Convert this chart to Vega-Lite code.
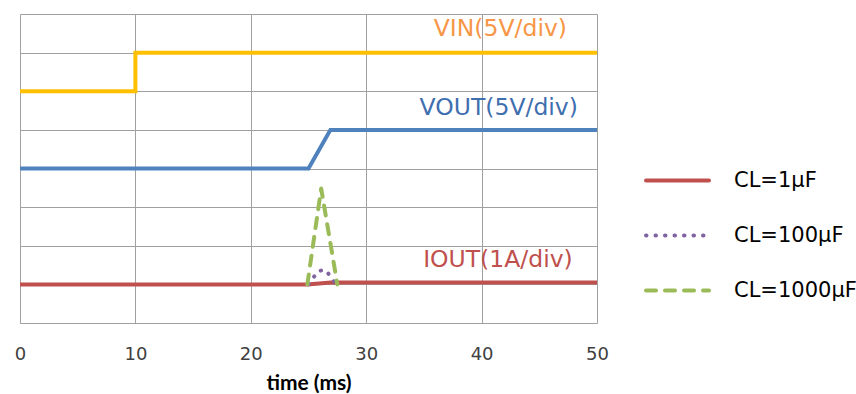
{
  "$schema": "https://vega.github.io/schema/vega-lite/v6.json",
  "width": 577,
  "height": 309,
  "autosize": {"type": "none"},
  "padding": {"left": 20, "top": 14, "right": 259, "bottom": 71},
  "background": "white",
  "config": {"view": {"stroke": null}},
  "datasets": {
    "volts": [
      {"series": "VIN", "time": 0, "value": 6},
      {"series": "VIN", "time": 10, "value": 6},
      {"series": "VIN", "time": 10, "value": 7},
      {"series": "VIN", "time": 50, "value": 7},
      {"series": "VOUT", "time": 0, "value": 4},
      {"series": "VOUT", "time": 25, "value": 4},
      {"series": "VOUT", "time": 26.9, "value": 5},
      {"series": "VOUT", "time": 50, "value": 5}
    ],
    "currents": [
      {"series": "CL=1µF", "time": 0, "value": 1},
      {"series": "CL=1µF", "time": 25, "value": 1},
      {"series": "CL=1µF", "time": 27, "value": 1.05},
      {"series": "CL=1µF", "time": 50, "value": 1.05},
      {"series": "CL=100µF", "time": 25, "value": 1},
      {"series": "CL=100µF", "time": 25.85, "value": 1.35},
      {"series": "CL=100µF", "time": 26.5, "value": 1.37},
      {"series": "CL=100µF", "time": 27.2, "value": 1.08},
      {"series": "CL=1000µF", "time": 24.9, "value": 1},
      {"series": "CL=1000µF", "time": 26.1, "value": 3.48},
      {"series": "CL=1000µF", "time": 27.5, "value": 1}
    ],
    "labels": [
      {"label": "VIN(5V/div)", "time": 47.4, "value": 7.6},
      {"label": "VOUT(5V/div)", "time": 48.35, "value": 5.57},
      {"label": "IOUT(1A/div)", "time": 47.9, "value": 1.63}
    ]
  },
  "layer": [
    {
      "data": {"name": "volts"},
      "mark": {"type": "line", "strokeWidth": 4, "strokeJoin": "miter", "strokeCap": "butt"},
      "encoding": {
        "x": {
          "field": "time", "type": "quantitative",
          "scale": {"domain": [0, 50], "nice": false},
          "axis": {
            "values": [0, 10, 20, 30, 40, 50],
            "tickCount": 20,
            "title": "time (ms)",
            "titleFont": "Lato", "titleFontSize": 21, "titleFontWeight": "bold", "titleColor": "#000000",
            "titlePadding": 9,
            "labelFont": "DejaVu Sans", "labelFontSize": 18, "labelColor": "#404040",
            "labelPadding": 22,
            "labelFlush": false,
            "grid": true, "gridColor": "#a0a0a0", "gridWidth": 1,
            "ticks": false, "domain": false
          }
        },
        "y": {
          "field": "value", "type": "quantitative",
          "scale": {"domain": [0, 8], "nice": false},
          "axis": {
            "values": [0, 1, 2, 3, 4, 5, 6, 7, 8],
            "tickCount": 20,
            "title": null, "labels": false, "ticks": false, "domain": false,
            "grid": true, "gridColor": "#a0a0a0", "gridWidth": 1
          }
        },
        "color": {
          "field": "series", "type": "nominal",
          "scale": {"domain": ["VIN", "VOUT"], "range": ["#FFC000", "#4F81BD"]},
          "legend": null
        }
      }
    },
    {
      "data": {"name": "currents"},
      "mark": {"type": "line", "strokeWidth": 4, "strokeCap": "round", "strokeJoin": "round", "clip": true},
      "encoding": {
        "x": {"field": "time", "type": "quantitative"},
        "y": {"field": "value", "type": "quantitative"},
        "color": {
          "field": "series", "type": "nominal",
          "scale": {"domain": ["CL=1µF", "CL=100µF", "CL=1000µF"], "range": ["#C0504D", "#8064A2", "#9BBB59"]},
          "legend": {
            "title": null,
            "orient": "none",
            "legendX": 624,
            "legendY": 133,
            "symbolType": "stroke",
            "symbolSize": 3969,
            "symbolStrokeWidth": 4,
            "rowPadding": 11,
            "labelOffset": 23,
            "labelFont": "DejaVu Sans",
            "labelFontSize": 21,
            "labelColor": "#000000",
            "labelLimit": 300,
            "padding": 0,
            "encode": {"symbols": {"update": {"strokeCap": {"value": "round"}}}}
          }
        },
        "strokeDash": {
          "field": "series", "type": "nominal",
          "scale": {"domain": ["CL=1µF", "CL=100µF", "CL=1000µF"], "range": [[1, 0], [0.5, 9], [10, 9]]},
          "legend": null
        }
      }
    },
    {
      "data": {"name": "labels"},
      "mark": {"type": "text", "align": "right", "baseline": "middle", "font": "DejaVu Sans", "fontSize": 23.5},
      "encoding": {
        "x": {"field": "time", "type": "quantitative"},
        "y": {"field": "value", "type": "quantitative"},
        "text": {"field": "label"},
        "color": {
          "field": "label", "type": "nominal",
          "scale": {"domain": ["VIN(5V/div)", "VOUT(5V/div)", "IOUT(1A/div)"], "range": ["#F79646", "#3F6FAF", "#C0504D"]},
          "legend": null
        }
      }
    }
  ],
  "resolve": {"scale": {"color": "independent", "strokeDash": "independent"}, "legend": {"color": "independent"}}
}
